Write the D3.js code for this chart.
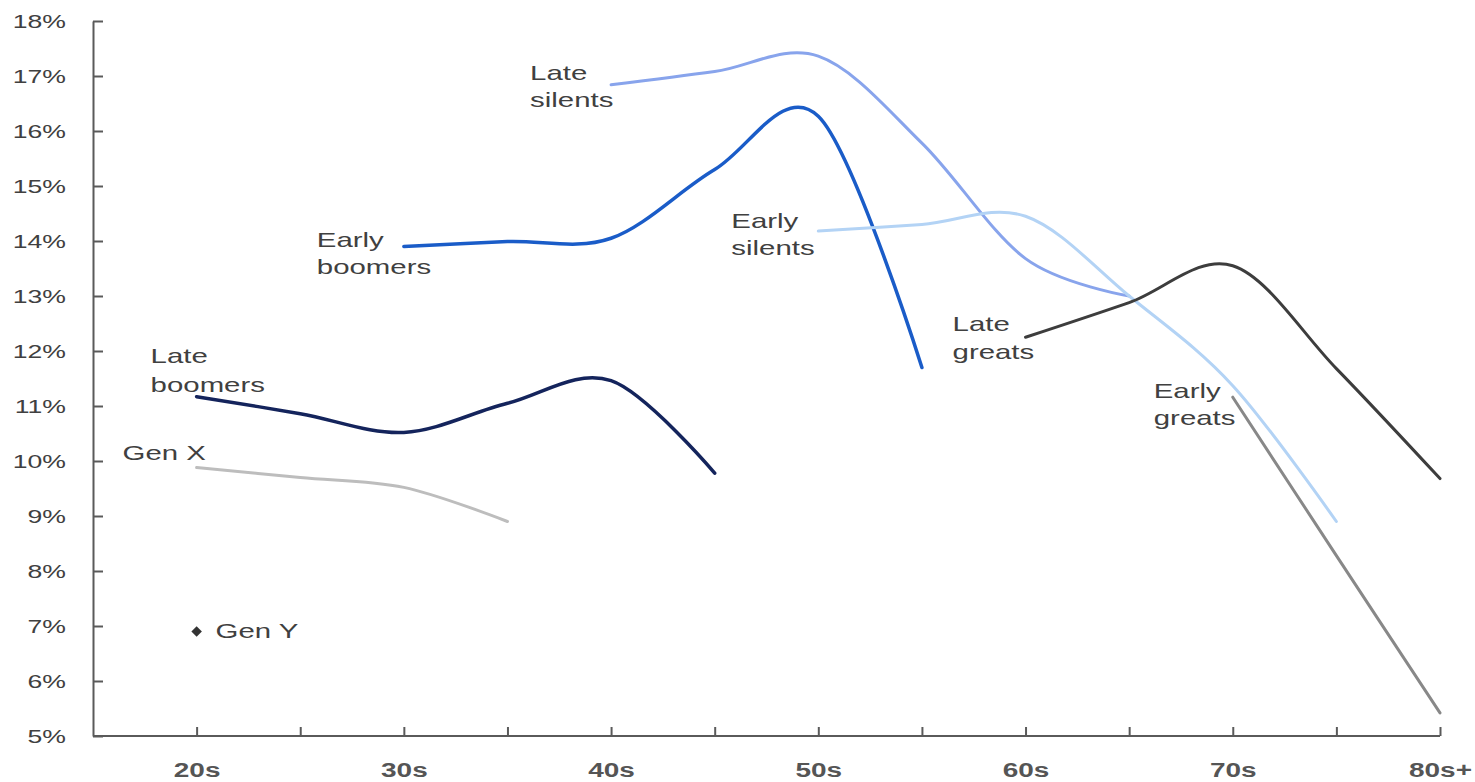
<!DOCTYPE html>
<html>
<head>
<meta charset="utf-8">
<script src="https://cdn.jsdelivr.net/npm/d3@7"></script>
<style>
  html, body { margin: 0; padding: 0; background: #fff; }
  svg { display: block; font-family: "Liberation Sans", Arial, sans-serif; }
  .axis path, .axis line { stroke: #5a5a5a; stroke-width: 2; }
  .axis text { fill: #404040; }
  .x-axis text { fill: #555; font-weight: bold; }
  .series { fill: none; stroke-linecap: round; stroke-linejoin: round; }
  .label { fill: #404040; font-size: 21px; }
</style>
</head>
<body>
<div id="chart"></div>
<script>
// Age points (years) and series values (% share)
const tickAges = [20, 25, 30, 35, 40, 45, 50, 55, 60, 65, 70, 75, 80];
const decadeLabels = { 20: '20s', 30: '30s', 40: '40s', 50: '50s', 60: '60s', 70: '70s', 80: '80s+' };
const yTicks = [5, 6, 7, 8, 9, 10, 11, 12, 13, 14, 15, 16, 17, 18];

const lateBoomersAges = [20, 25, 30, 35, 40, 45];
const lateBoomers     = [11.17, 10.86, 10.52, 11.05, 11.46, 9.78];

const genXAges = [20, 25, 30, 35];
const genX     = [9.88, 9.7, 9.52, 8.9];

const genYAges = [20];
const genY     = [6.9];

const earlyBoomersAges = [30, 35, 40, 45, 50, 55];
const earlyBoomers     = [13.9, 13.99, 14.05, 15.3, 16.27, 11.7];

const lateSilentsAges = [40, 45, 50, 55, 60, 65];
const lateSilents     = [16.84, 17.08, 17.36, 15.78, 13.68, 13.0];

const earlySilentsAges = [50, 55, 60, 65, 70, 75];
const earlySilents     = [14.18, 14.3, 14.45, 13.0, 11.37, 8.9];

const lateGreatsAges = [60, 65, 70, 75, 80];
const lateGreats     = [12.25, 12.88, 13.55, 11.68, 9.68];

const earlyGreatsAges = [70, 75, 80];
const earlyGreats     = [11.16, 8.28, 5.42];

// Series list (drawing order) with style; label offsets are relative to the first point
const series = [
  { name: ['Gen X'],           ages: genXAges,         values: genX,         color: '#bdbdbd', width: 3,   ldx: -74, ldy: [-8] },
  { name: ['Late', 'boomers'], ages: lateBoomersAges,  values: lateBoomers,  color: '#14245c', width: 3.5, ldx: -46, ldy: [-34, -5] },
  { name: ['Early', 'boomers'],ages: earlyBoomersAges, values: earlyBoomers, color: '#1a5cc8', width: 3.5, ldx: -87, ldy: [0, 27] },
  { name: ['Late', 'silents'], ages: lateSilentsAges,  values: lateSilents,  color: '#88a4ec', width: 3,   ldx: -81, ldy: [-5, 22] },
  { name: ['Early', 'silents'],ages: earlySilentsAges, values: earlySilents, color: '#b3d3f5', width: 3,   ldx: -87, ldy: [-3, 24] },
  { name: ['Late', 'greats'],  ages: lateGreatsAges,   values: lateGreats,   color: '#3d3d3d', width: 3,   ldx: -73, ldy: [-6, 22] },
  { name: ['Early', 'greats'], ages: earlyGreatsAges,  values: earlyGreats,  color: '#888888', width: 3,   ldx: -79, ldy: [1, 28] }
];

const width = 1475;
const height = 782;
const stretch = 1.4; // the picture's text is wide

const svg = d3.select('#chart')
  .append('svg')
  .attr('width', width)
  .attr('height', height);

const x = d3.scaleLinear().domain([15, 80]).range([93, 1440]);
const y = d3.scaleLinear().domain([5, 18]).range([736, 21]);

// Y axis, ticks point inward
const yAxis = svg.append('g')
  .attr('class', 'axis')
  .attr('transform', `translate(${x(15)},0)`)
  .call(d3.axisLeft(y).tickValues(yTicks).tickSize(-10).tickSizeOuter(0).tickFormat(d => d + '%'));

yAxis.selectAll('text')
  .attr('x', 0)
  .attr('dy', '0.35em')
  .attr('transform', `translate(-27,0) scale(${stretch},1)`)
  .style('font-size', '19px');

// X axis, ticks point upward
const xAxis = svg.append('g')
  .attr('class', 'axis x-axis')
  .attr('transform', `translate(0,${y(5)})`)
  .call(d3.axisBottom(x).tickValues(tickAges).tickSize(-9).tickSizeOuter(0)
    .tickFormat(d => decadeLabels[d] || ''));

xAxis.select('.domain').attr('d', `M${x(15)},0H${x(80)}`);

xAxis.selectAll('text')
  .attr('y', 0)
  .attr('dy', 0)
  .attr('transform', `translate(0,41) scale(${stretch},1)`)
  .style('font-size', '20px');

// Lines
const line = d3.line()
  .x(d => x(d[0]))
  .y(d => y(d[1]))
  .curve(d3.curveCardinal.tension(0));

svg.append('g')
  .selectAll('path')
  .data(series)
  .enter().append('path')
  .attr('class', 'series')
  .attr('d', s => line(s.ages.map((a, i) => [a, s.values[i]])))
  .attr('stroke', s => s.color)
  .attr('stroke-width', s => s.width);

// Gen Y single point
svg.append('g')
  .selectAll('path')
  .data(genYAges.map((a, i) => [a, genY[i]]))
  .enter().append('path')
  .attr('d', d3.symbol().type(d3.symbolDiamond2).size(70))
  .attr('transform', d => `translate(${x(d[0])},${y(d[1])})`)
  .attr('fill', '#333');

// Labels
const labels = svg.append('g');

series.forEach(s => {
  const x0 = x(s.ages[0]) + s.ldx;
  const y0 = y(s.values[0]);
  s.name.forEach((txt, i) => {
    labels.append('text')
      .attr('class', 'label')
      .attr('transform', `translate(${x0},${y0 + s.ldy[i]}) scale(${stretch},1)`)
      .text(txt);
  });
});

labels.append('text')
  .attr('class', 'label')
  .attr('transform', `translate(${x(genYAges[0]) + 19},${y(genY[0]) + 6}) scale(${stretch},1)`)
  .text('Gen Y');
</script>
</body>
</html>
